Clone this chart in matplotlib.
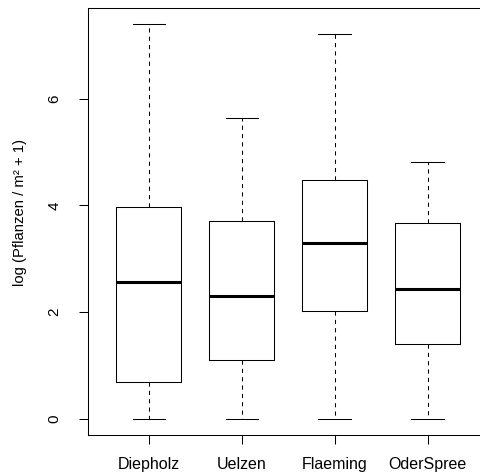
import matplotlib
matplotlib.use("Agg")
import matplotlib.pyplot as plt

plt.rcParams['font.family'] = ['Liberation Sans', 'DejaVu Sans']

# values
regions = ['Diepholz', 'Uelzen', 'Flaeming', 'OderSpree']
whisker_low = [0.0, 0.0, 0.0, 0.0]
quart1 = [0.70, 1.11, 2.02, 1.40]
medians = [2.56, 2.31, 3.29, 2.44]
quart3 = [3.97, 3.70, 4.48, 3.67]
whisker_high = [7.40, 5.64, 7.21, 4.82]

stats = []
for name, lo, q1, m, q3, hi in zip(regions, whisker_low, quart1, medians, quart3, whisker_high):
    stats.append(dict(label=name, whislo=lo, q1=q1, med=m, q3=q3, whishi=hi, fliers=[]))

fig = plt.figure(figsize=(4.81, 4.75), dpi=100)
# the frame runs past the right edge of the picture, as in the original
ax = fig.add_axes([87.5 / 481, 40.3 / 475, 401.5 / 481, 426.7 / 475])

lw = 0.75
ax.bxp(stats, positions=[1, 2, 3, 4], widths=0.7, capwidths=0.35, showfliers=False,
       boxprops=dict(color='black', linewidth=lw),
       medianprops=dict(color='black', linewidth=2.2, solid_capstyle='butt'),
       whiskerprops=dict(color='black', linewidth=lw, linestyle=(0, (4, 4))),
       capprops=dict(color='black', linewidth=lw))

ax.set_xlim(0.34, 4.66)
ax.set_ylim(-0.296, 7.696)
ax.set_yticks([0, 2, 4, 6])
ax.set_yticklabels(['0', '2', '4', '6'], rotation=90, va='center')
ax.set_xticks([1, 2, 3, 4])
ax.set_xticklabels(regions)
ax.tick_params(axis='both', direction='out', length=6.8, width=lw, color='black')
ax.tick_params(axis='x', pad=9, labelsize=11.5)
ax.tick_params(axis='y', pad=12, labelsize=11)
for s in ax.spines.values():
    s.set_linewidth(lw)

ax.set_ylabel('log (Pflanzen / m² + 1)', fontsize=10.7)
ax.yaxis.label.set_va('center')
ax.yaxis.set_label_coords(-0.167, 0.521)

fig.savefig('out.png', dpi=100)
